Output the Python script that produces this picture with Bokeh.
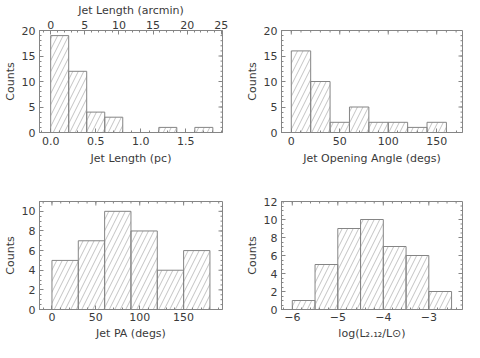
import numpy as np
from bokeh.plotting import figure
from bokeh.layouts import column, row
from bokeh.models import (Range1d, LinearAxis, FixedTicker, CustomJSTickFormatter)
from bokeh.embed import file_html
from bokeh.resources import INLINE

# ---------------- data ----------------
len_edges = [0.0, 0.2, 0.4, 0.6, 0.8, 1.0, 1.2, 1.4, 1.6, 1.8]
len_counts = [19, 12, 4, 3, 0, 0, 1, 0, 1]

ang_edges = [0, 20, 40, 60, 80, 100, 120, 140, 160]
ang_counts = [16, 10, 2, 5, 2, 2, 1, 2]

pa_edges = [0, 30, 60, 90, 120, 150, 180]
pa_counts = [5, 7, 10, 8, 4, 6]

lum_edges = [-6.0, -5.5, -5.0, -4.5, -4.0, -3.5, -3.0, -2.5]
lum_counts = [1, 5, 9, 10, 7, 6, 2]

len_ticks = [0.0, 0.5, 1.0, 1.5]
arcmin_ticks = [0, 5, 10, 15, 20, 25]
ang_ticks = [0, 50, 100, 150]
pa_ticks = [0, 50, 100, 150]
lum_ticks = [-6, -5, -4, -3]
counts20_ticks = [0, 5, 10, 15, 20]
pa_y_ticks = [0, 2, 4, 6, 8, 10]
lum_y_ticks = [0, 2, 4, 6, 8, 10, 12]

ARCMIN_PER_PC = 13.2

FONT = "DejaVu Sans"
FS = "11px"
TEXT = "#3a3a3a"
GRAY = "#858585"
HATCH = "#b4b4b4"


def minor(lo, hi, step):
    return [float(v) for v in np.round(np.arange(lo, hi + step / 2, step), 6)]


def style_axis(ax, ticks, minors, label, dec, ls=2, als=2):
    ax.ticker = FixedTicker(ticks=ticks, minor_ticks=minors)
    ax.major_tick_in = 4
    ax.major_tick_out = 0
    ax.minor_tick_in = 2
    ax.minor_tick_out = 0
    ax.axis_line_color = GRAY
    ax.major_tick_line_color = GRAY
    ax.minor_tick_line_color = GRAY
    ax.major_label_text_font = FONT
    ax.major_label_text_font_size = FS
    ax.major_label_text_color = TEXT
    ax.major_label_standoff = ls
    ax.axis_label_standoff = als
    ax.axis_label_text_font = FONT
    ax.axis_label_text_font_style = "normal"
    ax.axis_label_text_font_size = FS
    ax.axis_label_text_color = TEXT
    ax.axis_label = label
    ax.formatter = CustomJSTickFormatter(args={"dec": dec}, code="""
        const a = Math.abs(tick) < 1e-9 ? 0 : Math.abs(tick);
        return (tick < -1e-9 ? "\\u2212" : "") + a.toFixed(dec);
    """)


def make_fig(w, h, bl, br, bt, bb, xr, yr):
    p = figure(width=w, height=h, x_range=Range1d(*xr), y_range=Range1d(*yr),
               output_backend="svg", toolbar_location=None,
               min_border_left=bl, min_border_right=br,
               min_border_top=bt, min_border_bottom=bb,
               x_axis_location=None, y_axis_location=None)
    p.xgrid.grid_line_color = None
    p.ygrid.grid_line_color = None
    p.outline_line_color = GRAY
    p.background_fill_color = "white"
    p.border_fill_color = "white"
    return p


def add_hist(p, edges, counts):
    p.quad(left=edges[:-1], right=edges[1:], top=counts, bottom=0,
           fill_color=None, line_color=GRAY, line_width=1,
           hatch_pattern="/", hatch_color=HATCH, hatch_scale=11, hatch_weight=0.8)


def mirror_ticks(p, xr, yr, xt, xminor, yt, yminor, top=True):
    # IDL-style inward ticks on the right (and top) edges of the box
    def inside(v, r):
        return [t for t in v if r[0] < t < r[1]]
    ymaj = inside(yt, yr)
    ymin = inside(yminor, yr)
    p.ray(x=[xr[1]] * len(ymaj), y=ymaj, length=4, length_units="screen",
          angle=np.pi, line_color=GRAY, line_width=1)
    p.ray(x=[xr[1]] * len(ymin), y=ymin, length=2, length_units="screen",
          angle=np.pi, line_color=GRAY, line_width=1)
    if top:
        xmaj = inside(xt, xr)
        xmin = inside(xminor, xr)
        p.ray(x=xmaj, y=[yr[1]] * len(xmaj), length=4, length_units="screen",
              angle=-np.pi / 2, line_color=GRAY, line_width=1)
        p.ray(x=xmin, y=[yr[1]] * len(xmin), length=2, length_units="screen",
              angle=-np.pi / 2, line_color=GRAY, line_width=1)


def build(w, h, bl, br, bt, bb, xr, yr, edges, counts, xt, xminor, yt, yminor,
          xlabel, xdec, bstand, top=None):
    p = make_fig(w, h, bl, br, bt, bb, xr, yr)
    add_hist(p, edges, counts)
    b = LinearAxis()
    style_axis(b, xt, xminor, xlabel, xdec, ls=bstand, als=bstand)
    p.add_layout(b, "below")
    l = LinearAxis()
    style_axis(l, yt, yminor, "Counts", 0, ls=4, als=2)
    p.add_layout(l, "left")
    if top is not None:
        tticks, tminor, tlabel, trange = top
        p.extra_x_ranges = {"top": Range1d(*trange)}
        t = LinearAxis(x_range_name="top")
        style_axis(t, tticks, tminor, tlabel, 0, ls=2, als=1)
        p.add_layout(t, "above")
        mirror_ticks(p, xr, yr, xt, xminor, yt, yminor, top=False)
    else:
        mirror_ticks(p, xr, yr, xt, xminor, yt, yminor, top=True)
    return p


# Top-left: jet length
xr1 = (-0.124, 1.907)
p1 = build(242, 168, 32, 20, 28, 36, xr1, (0, 20), len_edges, len_counts,
           len_ticks, minor(-0.1, 1.9, 0.1), counts20_ticks, minor(0, 20, 1),
           "Jet Length (pc)", 1, 4,
           top=(arcmin_ticks, minor(-1, 25, 1), "Jet Length (arcmin)",
                (xr1[0] * ARCMIN_PER_PC, xr1[1] * ARCMIN_PER_PC)))

# Top-right: opening angle
xr2 = (-10.1, 176.6)
p2 = build(222, 168, 32, 2, 28, 36, xr2, (0, 20), ang_edges, ang_counts,
           ang_ticks, minor(-10, 170, 10), counts20_ticks, minor(0, 20, 1),
           "Jet Opening Angle (degs)", 0, 4)

# Bottom-left: PA
xr3 = (-14.2, 194.3)
p3 = build(242, 174, 34, 20, 33, 32, xr3, (0, 11), pa_edges, pa_counts,
           pa_ticks, minor(-10, 190, 10), pa_y_ticks, minor(0, 11, 0.5),
           "Jet PA (degs)", 0, 3)

# Bottom-right: luminosity
xr4 = (-6.237, -2.26)
p4 = build(222, 174, 32, 2, 33, 32, xr4, (0, 12), lum_edges, lum_counts,
           lum_ticks, minor(-6.2, -2.2, 0.2), lum_y_ticks, minor(0, 12, 0.5),
           "log(L\u2082.\u2081\u2082/L\u2299)", 0, 3)

layout = column(row(p1, p2, spacing=0), row(p3, p4, spacing=0), spacing=0)

open("out.html", "w").write(file_html(layout, INLINE))
